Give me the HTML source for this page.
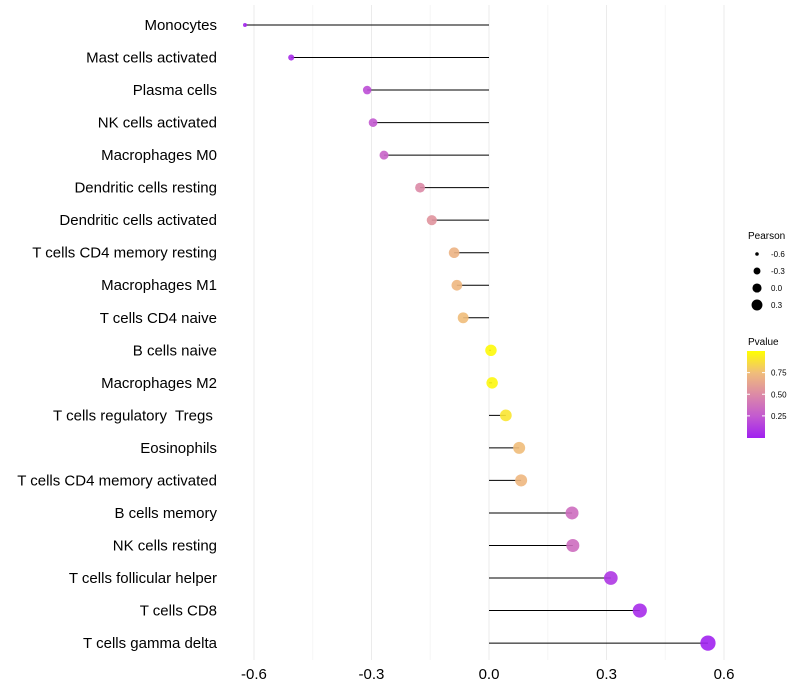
<!DOCTYPE html>
<html><head><meta charset="utf-8"><style>
body{margin:0;background:#fff}
svg{display:block;font-family:"Liberation Sans",sans-serif}
text{white-space:pre}
</style></head><body>
<svg id="chart" width="800" height="700">
<defs>
<linearGradient id="pg" x1="0" y1="1" x2="0" y2="0">
<stop offset="0" stop-color="#a020f0"/><stop offset="0.25" stop-color="#c35ad0"/>
<stop offset="0.5" stop-color="#dc8aa6"/><stop offset="0.75" stop-color="#f0bd7a"/>
<stop offset="1" stop-color="#ffff00"/></linearGradient>
</defs>
<g id="grid"></g><g id="marks"></g><g id="axes"></g>
<g>
<text x="748" y="239" font-size="10" fill="#000">Pearson</text>
<g id="sizeleg"></g>
</g>
<g>
<text x="748" y="345" font-size="10" fill="#000">Pvalue</text>
<rect x="747" y="351" width="18" height="87" fill="url(#pg)"/>
<g id="cbticks"></g>
</g>
</svg>
<script>
const cells=["Monocytes","Mast cells activated","Plasma cells","NK cells activated","Macrophages M0","Dendritic cells resting","Dendritic cells activated","T cells CD4 memory resting","Macrophages M1","T cells CD4 naive","B cells naive","Macrophages M2","T cells regulatory  Tregs ","Eosinophils","T cells CD4 memory activated","B cells memory","NK cells resting","T cells follicular helper","T cells CD8","T cells gamma delta"];
const pearson=[-0.623,-0.505,-0.311,-0.296,-0.268,-0.176,-0.146,-0.089,-0.082,-0.066,0.005,0.008,0.043,0.077,0.082,0.212,0.214,0.311,0.385,0.559];
const pvalue=[0.02,0.05,0.2,0.25,0.3,0.5,0.55,0.7,0.72,0.75,0.98,0.97,0.9,0.75,0.72,0.35,0.35,0.1,0.05,0.01];
const xTicks=[-0.6,-0.3,0.0,0.3,0.6];
const sizeLegend=[-0.6,-0.3,0.0,0.3];
const cbTicks=[0.25,0.5,0.75];
const NS="http://www.w3.org/2000/svg";
const X=v=>489+v*391.7, Y=i=>25+i*32.53;
const R=v=>Math.sqrt(4+(v+0.62)*46);
const stops=[[0,[160,32,240]],[0.25,[195,90,208]],[0.5,[220,138,166]],[0.75,[240,189,122]],[1,[255,255,0]]];
function col(p){for(let k=1;k<stops.length;k++){if(p<=stops[k][0]){const a=stops[k-1],b=stops[k],t=(p-a[0])/(b[0]-a[0]);return "rgb("+a[1].map((c,j)=>Math.round(c+(b[1][j]-c)*t)).join(",")+")";}}return "rgb(255,255,0)";}
function mk(tag,at,par){const e=document.createElementNS(NS,tag);for(const k in at)e.setAttribute(k,at[k]);document.getElementById(par).appendChild(e);return e;}
for(let v=-0.6;v<=0.61;v+=0.15){const e=mk("line",{x1:X(v),x2:X(v),y1:5,y2:660,stroke:Math.abs(Math.round(v/0.15))%2?"#f6f6f6":"#ebebeb","stroke-width":1},"grid");

}
xTicks.forEach(t=>{const e=mk("text",{x:X(t),y:679,"font-size":15,"text-anchor":"middle",fill:"#000"},"axes");e.textContent=t.toFixed(1);

});
cells.forEach((c,i)=>{const e=mk("text",{x:217,y:Y(i)+5,"font-size":15,"text-anchor":"end",fill:"#000"},"axes");e.textContent=c;


const l=mk("line",{x1:X(0),x2:X(pearson[i]),y1:Y(i),y2:Y(i),stroke:"#000","stroke-width":1},"marks");


const p=mk("circle",{cx:X(pearson[i]),cy:Y(i),r:R(pearson[i]),fill:col(pvalue[i]),"fill-opacity":0.9},"marks");

});
sizeLegend.forEach((v,k)=>{const y=254+k*17;const c=mk("circle",{cx:757,cy:y,r:R(v)*0.8,fill:"#000"},"sizeleg");


const t=mk("text",{x:771,y:y+3,"font-size":8,fill:"#000"},"sizeleg");t.textContent=v.toFixed(1);

});
cbTicks.forEach(v=>{const y=437.5-v*86.5;const t=mk("text",{x:771,y:y+3,"font-size":8,fill:"#000"},"cbticks");t.textContent=v.toFixed(2);


const l=mk("line",{x1:747,x2:750,y1:y,y2:y,stroke:"#fff"},"cbticks");


const l2=mk("line",{x1:762,x2:765,y1:y,y2:y,stroke:"#fff"},"cbticks");

});
</script>
</body></html>
